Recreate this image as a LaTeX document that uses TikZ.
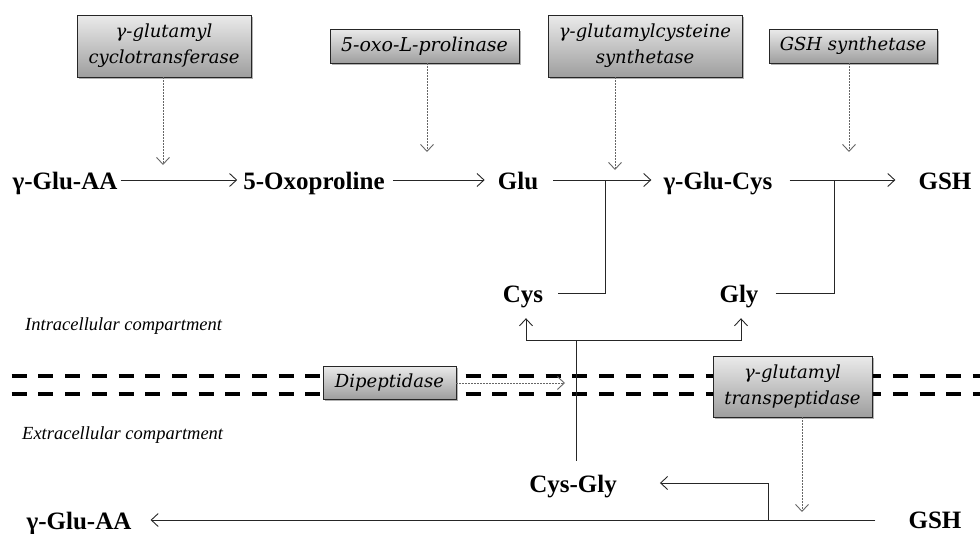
\documentclass[tikz,border=0pt]{standalone}
\usepackage{fontspec}
\setmainfont{Liberation Serif}
\newfontfamily\enzfont{DejaVu Serif}
\usetikzlibrary{arrows.meta,shadows}
\begin{document}
\begin{tikzpicture}[x=1pt,y=-1pt,
  lbl/.style={font=\bfseries\fontsize{25}{25}\selectfont, inner sep=0pt,
    text height=18pt, text depth=0pt, anchor=base},
  enz/.style={draw=black!85, line width=0.8pt, top color=black!8,
    bottom color=black!38, align=center, inner sep=0pt,
    font=\enzfont\itshape\fontsize{#1}{26}\selectfont,
    drop shadow={shadow xshift=1.5pt, shadow yshift=-1.5pt, opacity=0.3, fill=black}},
  enz/.default=18,
  comp/.style={font=\itshape\fontsize{18.5}{20}\selectfont, inner sep=0pt, anchor=west},
  flow/.style={draw=black!85, line width=0.9pt},
  tip/.style={-{Straight Barb[length=7pt,width=13pt,line width=0.9pt]}},
  cat/.style={draw=black!60, line width=1pt, dash pattern=on 2pt off 1pt,
    -{Straight Barb[length=7pt,width=13pt,line width=0.9pt]}},
  membrane/.style={line width=4pt, dash pattern=on 15pt off 11.7pt, dash phase=15pt}
]
\useasboundingbox (0,0) rectangle (980,533);

% membrane (double dashed line)
\draw[membrane] (0,376) -- (980,376);
\draw[membrane] (0,394) -- (980,394);

% compartment labels
\node[comp] (intra) at (25,326) {Intracellular compartment};
\node[comp] (extra) at (22,435) {Extracellular compartment};

% metabolites, intracellular
\node[lbl] (g1)  at (65,189)  {γ-Glu-AA};
\node[lbl] (oxo) at (314,189) {5-Oxoproline};
\node[lbl] (glu) at (518,189) {Glu};
\node[lbl] (ggc) at (718,189) {γ-Glu-Cys};
\node[lbl] (gsh) at (945,189) {GSH};
\node[lbl] (cys) at (523,302) {Cys};
\node[lbl] (gly) at (739,302) {Gly};

% metabolites, extracellular
\node[lbl] (cysgly) at (573,492) {Cys-Gly};
\node[lbl] (g2)     at (79,529)  {γ-Glu-AA};
\node[lbl] (gsh2)   at (935,528) {GSH};

% enzymes
\node[enz, minimum width=174pt, minimum height=62pt] (e1) at (164,46)
  {γ-glutamyl\\cyclotransferase};
\node[enz=19, minimum width=189pt, minimum height=34pt] (e2) at (424.5,46)
  {5-oxo-L-prolinase};
\node[enz, minimum width=194pt, minimum height=62pt] (e3) at (645,46)
  {γ-glutamylcysteine\\synthetase};
\node[enz, minimum width=168pt, minimum height=34pt] (e4) at (853,46)
  {GSH synthetase};
\node[enz, minimum width=133pt, minimum height=33pt] (e5) at (389.5,382.5)
  {Dipeptidase};
\node[enz, minimum width=159pt, minimum height=61pt] (e6) at (792.5,386.5)
  {γ-glutamyl\\transpeptidase};

% junction and target points
\coordinate (j1) at (605,180);
\coordinate (j2) at (834,180);
\coordinate (m)  at (576,340);
\coordinate (s)  at (768,520);
\coordinate (t1) at (163,165);
\coordinate (t2) at (427,152);
\coordinate (t3) at (615,170);
\coordinate (t4) at (849,152);
\coordinate (t5) at (565,383);
\coordinate (t6) at (802,512);

% intracellular synthesis route
\draw[flow,tip] ([xshift=3pt]g1.east) -- ([xshift=-6pt]oxo.west);
\draw[flow,tip] ([xshift=8pt]oxo.east) -- ([xshift=-13pt]glu.west);
\draw[flow,tip] ([xshift=15pt]glu.east) -- ([xshift=-12pt]ggc.west);
\draw[flow,tip] ([xshift=17pt]ggc.east) -- ([xshift=-23pt]gsh.west);
\draw[flow] ([xshift=15pt]cys.east) -| (j1);
\draw[flow] ([xshift=17pt]gly.east) -| (j2);

% Cys-Gly splitting into Cys and Gly
\draw[flow] ([yshift=13pt]cysgly.north -| m) -- (m);
\draw[flow,tip] (m) -| ([xshift=3pt,yshift=-16pt]cys.south);
\draw[flow,tip] (m) -| ([xshift=2pt,yshift=-16pt]gly.south);

% extracellular GSH breakdown
\draw[flow,tip] ([xshift=-33pt]gsh2.west |- s) -- ([xshift=19pt]g2.east |- s);
\draw[flow,tip] (s) |- ([xshift=43pt]cysgly.east);

% enzyme actions
\draw[cat] (e1.south -| t1) -- (t1);
\draw[cat] (e2.south -| t2) -- (t2);
\draw[cat] (e3.south -| t3) -- (t3);
\draw[cat] (e4.south -| t4) -- (t4);
\draw[cat] (e5.east |- t5) -- (t5);
\draw[cat] (e6.south -| t6) -- (t6);
\end{tikzpicture}
\end{document}
